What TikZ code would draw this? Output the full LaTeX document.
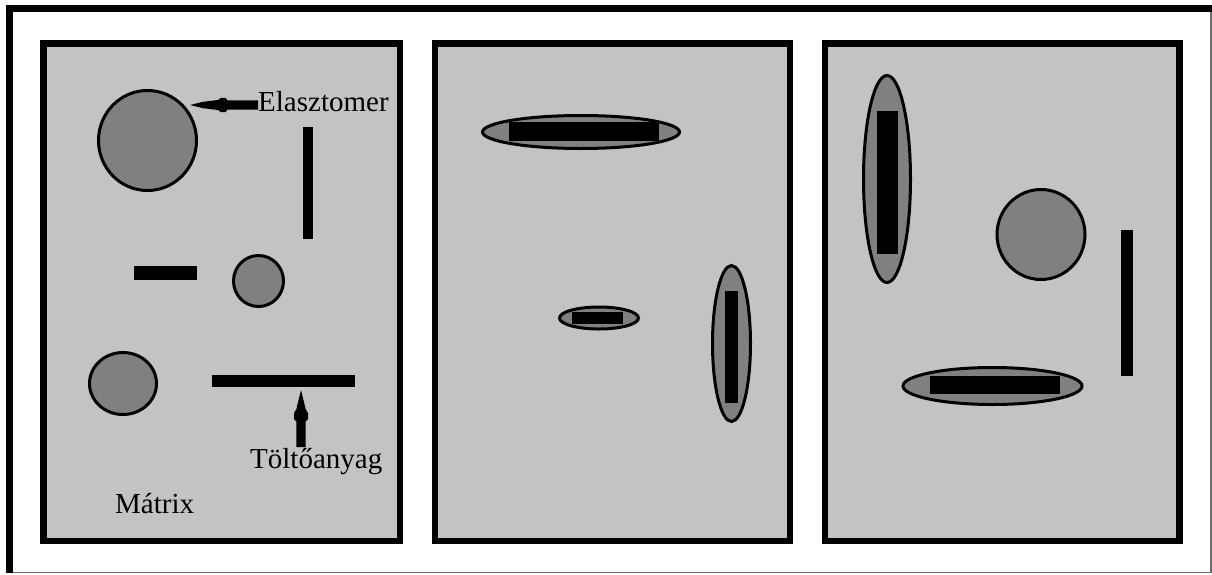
\documentclass[tikz,border=0pt]{standalone}
\usepackage{fontspec}
\setmainfont{Liberation Serif}
\definecolor{matrixgray}{RGB}{195,195,195}
\definecolor{partgray}{RGB}{128,128,128}
\definecolor{framegray}{RGB}{110,110,110}
\tikzset{
  panel/.style={draw=black, line width=6.5pt, fill=matrixgray},
  particle/.style={draw=black, line width=3pt, fill=partgray},
  fiber/.style={fill=black},
  label/.style={inner sep=0pt, anchor=base west, font=\fontsize{29}{34}\selectfont},
}
\begin{document}
\begin{tikzpicture}[x=1pt,y=-1pt]
\useasboundingbox (0,0) rectangle (1212,574);
% outer frame
\fill[black] (6,5) rectangle (1212,11.7);
\fill[black] (6,5) rectangle (12.7,573);
\draw[framegray, line width=1.3pt] (1211,11.7) -- (1211,572.7) -- (12.7,572.7);

% panels
\draw[panel] (43.25,43.25) rectangle (400,541);
\draw[panel] (435,43.25) rectangle (789.75,541);
\draw[panel] (825,43.25) rectangle (1179.5,541);

% ---------- panel 1 ----------
\draw[particle] (147.5,140.5) ellipse [x radius=49, y radius=50];
\draw[particle] (258.5,281) ellipse [x radius=25, y radius=25.5];
\draw[particle] (123,383.5) ellipse [x radius=33.5, y radius=31];
\fill[fiber] (303,127) rectangle (313,239);
\fill[fiber] (134,266) rectangle (197,280);
\fill[fiber] (212,375) rectangle (355,387);

\node[label] (elast) at (258,111.5) {Elasztomer};
\node[label] (tolt) at (250,468) {Töltőanyag};
\node[label] (matrix) at (115,513) {Mátrix};

% arrow to elastomer
\fill[black] (190,105) -- (203,101.8) -- (218,100) -- (221,97.8) -- (225.5,97.8)
  -- (227.5,100.4) -- (258,100.4) -- (258,109.6) -- (227.5,109.6) -- (225.5,112.2)
  -- (221,112.2) -- (218,110) -- (203,108.2) -- cycle;
% arrow to filler
\fill[black] (301,390) -- (297.8,403) -- (296.4,409) -- (294,413) -- (294,419)
  -- (296.4,421.5) -- (296.4,447) -- (305.6,447) -- (305.6,421.5) -- (308,419)
  -- (308,413) -- (305.6,409) -- (304.2,403) -- cycle;

% ---------- panel 2 ----------
\draw[particle] (581,132) ellipse [x radius=98.5, y radius=16.5];
\fill[fiber] (509,122) rectangle (659,141);
\draw[particle] (599,318) ellipse [x radius=39.5, y radius=11];
\fill[fiber] (572,312) rectangle (623,324);
\draw[particle] (731.5,343.5) ellipse [x radius=19, y radius=78];
\fill[fiber] (725,291) rectangle (738,403);

% ---------- panel 3 ----------
\draw[particle] (887,179) ellipse [x radius=23.5, y radius=103.5];
\fill[fiber] (877,111) rectangle (898,254);
\draw[particle] (1041,234.5) ellipse [x radius=44, y radius=45];
\fill[fiber] (1121,230) rectangle (1133,376);
\draw[particle] (992.5,386) ellipse [x radius=89.5, y radius=18.5];
\fill[fiber] (930,376) rectangle (1060,393.5);
\end{tikzpicture}
\end{document}
